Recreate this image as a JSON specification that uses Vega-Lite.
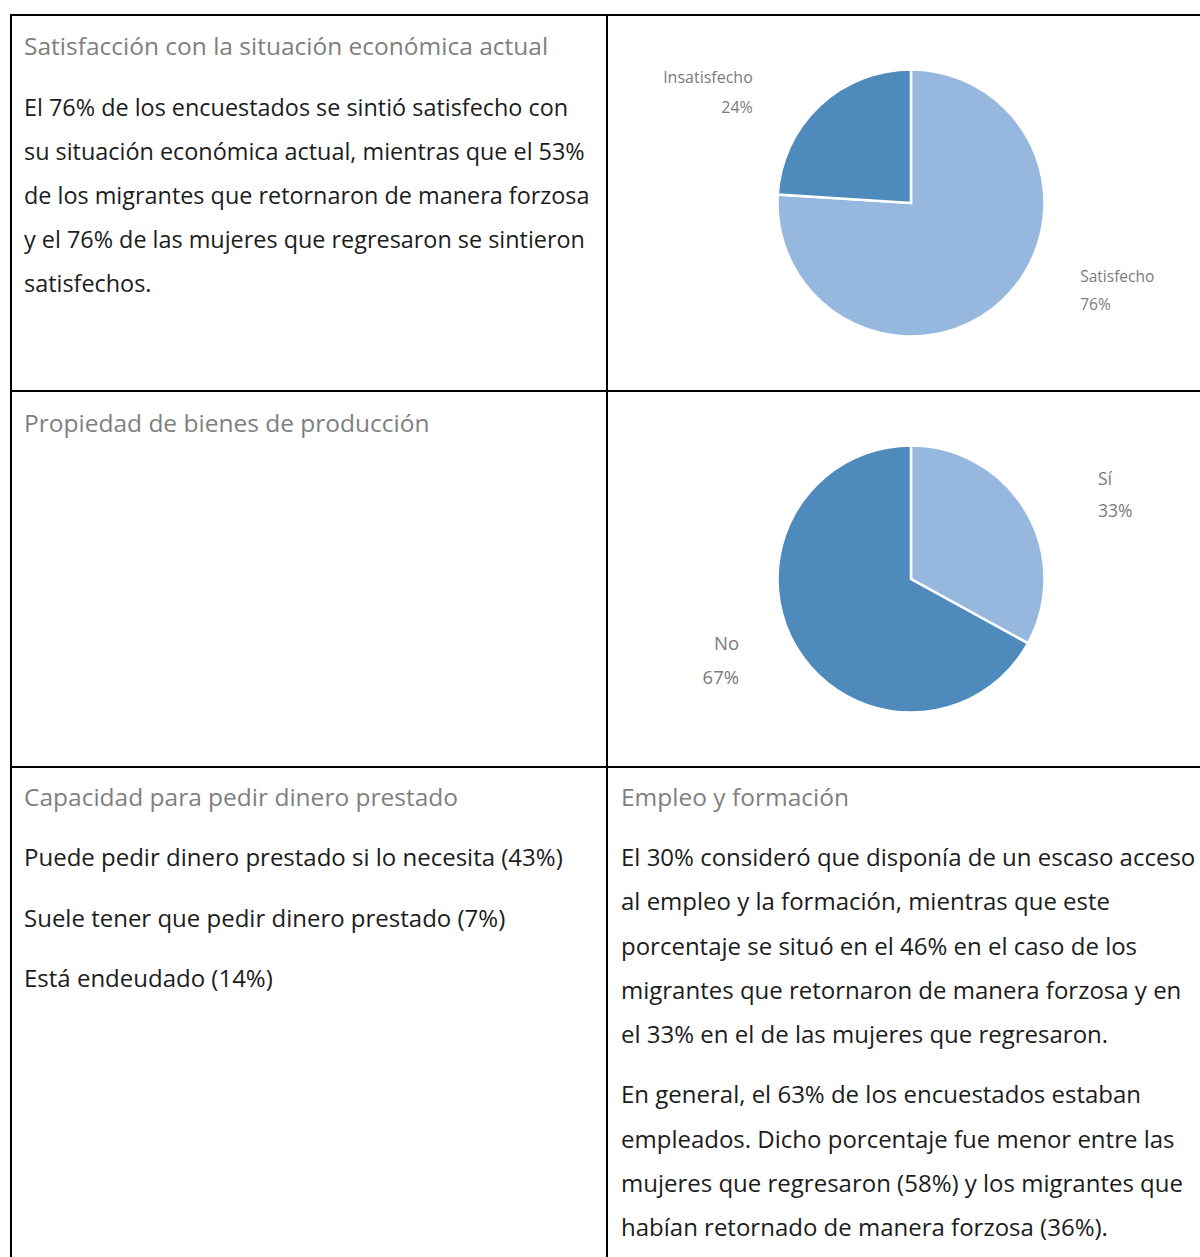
{
  "$schema": "https://vega.github.io/schema/vega-lite/v6.json",
  "padding": {"left": 10, "top": 13, "right": 0, "bottom": 0},
  "background": "white",
  "columns": 2,
  "spacing": 0,
  "bounds": "flush",
  "align": "each",
  "config": {
    "view": {"stroke": "#000000", "strokeWidth": 2},
    "text": {"font": "Open Sans"},
    "concat": {"spacing": 0}
  },
  "resolve": {"scale": {"x": "independent", "y": "independent", "color": "independent", "theta": "independent", "size": "independent", "opacity": "independent"}},
  "concat": [
    {
      "width": 596,
      "height": 376,
      "data": {"values": [
        {"line": 0, "kind": "h", "text": "Satisfacción con la situación económica actual"},
        {"line": 1, "kind": "b", "text": "El 76% de los encuestados se sintió satisfecho con"},
        {"line": 2, "kind": "b", "text": "su situación económica actual, mientras que el 53%"},
        {"line": 3, "kind": "b", "text": "de los migrantes que retornaron de manera forzosa"},
        {"line": 4, "kind": "b", "text": "y el 76% de las mujeres que regresaron se sintieron"},
        {"line": 5, "kind": "b", "text": "satisfechos."}
      ]},
      "encoding": {
        "x": {"datum": 0, "type": "quantitative", "scale": {"domain": [0, 1], "nice": false, "zero": false}, "axis": null},
        "y": {"field": "line", "type": "quantitative", "scale": {"domain": [-1.1088, 7.4173], "reverse": true, "nice": false, "zero": false}, "axis": null},
        "text": {"field": "text", "type": "nominal"}
      },
      "layer": [
        {"transform": [{"filter": "datum.kind === 'h'"}], "mark": {"type": "text", "align": "left", "baseline": "middle", "dx": 13, "dy": -16, "fontSize": 24.5, "fill": "#7f7f7f"}},
        {"transform": [{"filter": "datum.kind === 'b'"}], "mark": {"type": "text", "align": "left", "baseline": "middle", "dx": 13, "dy": 1, "fontSize": 23.4, "fill": "#1c1c1c"}}
      ]
    },
    {
      "width": 608,
      "height": 376,
      "view": {"stroke": "#000000", "strokeWidth": 2},
      "data": {"values": [
        {"cat": "Satisfecho", "pct": 76, "ord": 1, "label": "Satisfecho\n76%"},
        {"cat": "Insatisfecho", "pct": 24, "ord": 2, "label": "Insatisfecho\n24%"}
      ]},
      "encoding": {
        "theta": {"field": "pct", "type": "quantitative", "stack": true},
        "order": {"field": "ord", "type": "quantitative"},
        "color": {"field": "cat", "type": "nominal", "scale": {"domain": ["Satisfecho", "Insatisfecho"], "range": ["#96b8df", "#4f8abd"]}, "legend": null}
      },
      "layer": [
        {"mark": {"type": "arc", "outerRadius": 133.5, "stroke": "#ffffff", "strokeWidth": 2.5}},
        {
          "mark": {"type": "text", "radius": 180, "align": "left", "baseline": "middle", "dx": 46, "dy": -57, "lineHeight": 28, "lineBreak": "\n"},
          "encoding": {
            "text": {"field": "label", "type": "nominal"},
            "color": {"value": "#7b7b7b"},
            "detail": {"field": "cat", "type": "nominal"},
            "size": {"condition": {"test": "datum.cat === 'Satisfecho'", "value": 15.5}, "value": 0},
            "opacity": {"condition": {"test": "datum.cat === 'Satisfecho'", "value": 1}, "value": 0}
          }
        },
        {
          "mark": {"type": "text", "radius": 180, "align": "right", "baseline": "middle", "dx": -35, "dy": 6, "lineHeight": 30, "lineBreak": "\n"},
          "encoding": {
            "text": {"field": "label", "type": "nominal"},
            "color": {"value": "#7b7b7b"},
            "detail": {"field": "cat", "type": "nominal"},
            "size": {"condition": {"test": "datum.cat === 'Insatisfecho'", "value": 16}, "value": 0},
            "opacity": {"condition": {"test": "datum.cat === 'Insatisfecho'", "value": 1}, "value": 0}
          }
        }
      ]
    },
    {
      "width": 596,
      "height": 376,
      "data": {"values": [
        {"line": 0, "kind": "h", "text": "Propiedad de bienes de producción"}
      ]},
      "encoding": {
        "x": {"datum": 0, "type": "quantitative", "scale": {"domain": [0, 1], "nice": false, "zero": false}, "axis": null},
        "y": {"field": "line", "type": "quantitative", "scale": {"domain": [-1.1088, 7.4173], "reverse": true, "nice": false, "zero": false}, "axis": null},
        "text": {"field": "text", "type": "nominal"}
      },
      "layer": [
        {"mark": {"type": "text", "align": "left", "baseline": "middle", "dx": 13, "dy": -15, "fontSize": 24.5, "fill": "#7f7f7f"}}
      ]
    },
    {
      "width": 608,
      "height": 376,
      "view": {"stroke": "#000000", "strokeWidth": 2},
      "data": {"values": [
        {"cat": "Sí", "pct": 33, "ord": 1, "label": "Sí\n33%"},
        {"cat": "No", "pct": 67, "ord": 2, "label": "No\n67%"}
      ]},
      "encoding": {
        "theta": {"field": "pct", "type": "quantitative", "stack": true},
        "order": {"field": "ord", "type": "quantitative"},
        "color": {"field": "cat", "type": "nominal", "scale": {"domain": ["Sí", "No"], "range": ["#96b8df", "#4f8abd"]}, "legend": null}
      },
      "layer": [
        {"mark": {"type": "arc", "outerRadius": 133.5, "stroke": "#ffffff", "strokeWidth": 2.5}},
        {
          "mark": {"type": "text", "radius": 180, "align": "left", "baseline": "middle", "dx": 32, "dy": -7, "lineHeight": 32, "lineBreak": "\n"},
          "encoding": {
            "text": {"field": "label", "type": "nominal"},
            "color": {"value": "#7b7b7b"},
            "detail": {"field": "cat", "type": "nominal"},
            "size": {"condition": {"test": "datum.cat === 'Sí'", "value": 17.5}, "value": 0},
            "opacity": {"condition": {"test": "datum.cat === 'Sí'", "value": 1}, "value": 0}
          }
        },
        {
          "mark": {"type": "text", "radius": 180, "align": "right", "baseline": "middle", "dx": -17, "dy": -27, "lineHeight": 34, "lineBreak": "\n"},
          "encoding": {
            "text": {"field": "label", "type": "nominal"},
            "color": {"value": "#7b7b7b"},
            "detail": {"field": "cat", "type": "nominal"},
            "size": {"condition": {"test": "datum.cat === 'No'", "value": 18.5}, "value": 0},
            "opacity": {"condition": {"test": "datum.cat === 'No'", "value": 1}, "value": 0}
          }
        }
      ]
    },
    {
      "width": 596,
      "height": 491,
      "data": {"values": [
        {"line": 0, "kind": "h", "text": "Capacidad para pedir dinero prestado"},
        {"line": 1, "kind": "b", "text": "Puede pedir dinero prestado si lo necesita (43%)"},
        {"line": 2, "kind": "b", "text": "Suele tener que pedir dinero prestado (7%)"},
        {"line": 3, "kind": "b", "text": "Está endeudado (14%)"}
      ]},
      "encoding": {
        "x": {"datum": 0, "type": "quantitative", "scale": {"domain": [0, 1], "nice": false, "zero": false}, "axis": null},
        "y": {"field": "line", "type": "quantitative", "scale": {"domain": [-0.5132, 7.6159], "reverse": true, "nice": false, "zero": false}, "axis": null},
        "text": {"field": "text", "type": "nominal"}
      },
      "layer": [
        {"transform": [{"filter": "datum.kind === 'h'"}], "mark": {"type": "text", "align": "left", "baseline": "middle", "dx": 13, "dy": 1, "fontSize": 24.5, "fill": "#7f7f7f"}},
        {"transform": [{"filter": "datum.kind === 'b'"}], "mark": {"type": "text", "align": "left", "baseline": "middle", "dx": 13, "dy": 1, "fontSize": 24, "fill": "#1c1c1c"}}
      ]
    },
    {
      "width": 608,
      "height": 491,
      "data": {"values": [
        {"line": 0, "kind": "h", "text": "Empleo y formación"},
        {"line": 1, "kind": "p1", "text": "El 30% consideró que disponía de un escaso acceso"},
        {"line": 2, "kind": "p1", "text": "al empleo y la formación, mientras que este"},
        {"line": 3, "kind": "p1", "text": "porcentaje se situó en el 46% en el caso de los"},
        {"line": 4, "kind": "p1", "text": "migrantes que retornaron de manera forzosa y en"},
        {"line": 5, "kind": "p1", "text": "el 33% en el de las mujeres que regresaron."},
        {"line": 6, "kind": "p2", "text": "En general, el 63% de los encuestados estaban"},
        {"line": 7, "kind": "p2", "text": "empleados. Dicho porcentaje fue menor entre las"},
        {"line": 8, "kind": "p2", "text": "mujeres que regresaron (58%) y los migrantes que"},
        {"line": 9, "kind": "p2", "text": "habían retornado de manera forzosa (36%)."}
      ]},
      "encoding": {
        "x": {"datum": 0, "type": "quantitative", "scale": {"domain": [0, 1], "nice": false, "zero": false}, "axis": null},
        "y": {"field": "line", "type": "quantitative", "scale": {"domain": [-1.0565, 10.0395], "reverse": true, "nice": false, "zero": false}, "axis": null},
        "text": {"field": "text", "type": "nominal"}
      },
      "layer": [
        {"transform": [{"filter": "datum.kind === 'h'"}], "mark": {"type": "text", "align": "left", "baseline": "middle", "dx": 14, "dy": -15, "fontSize": 24.5, "fill": "#7f7f7f"}},
        {"transform": [{"filter": "datum.kind === 'p1'"}], "mark": {"type": "text", "align": "left", "baseline": "middle", "dx": 14, "dy": 1, "fontSize": 24, "fill": "#1c1c1c"}},
        {"transform": [{"filter": "datum.kind === 'p2'"}], "mark": {"type": "text", "align": "left", "baseline": "middle", "dx": 14, "dy": 17, "fontSize": 24, "fill": "#1c1c1c"}}
      ]
    }
  ]
}
